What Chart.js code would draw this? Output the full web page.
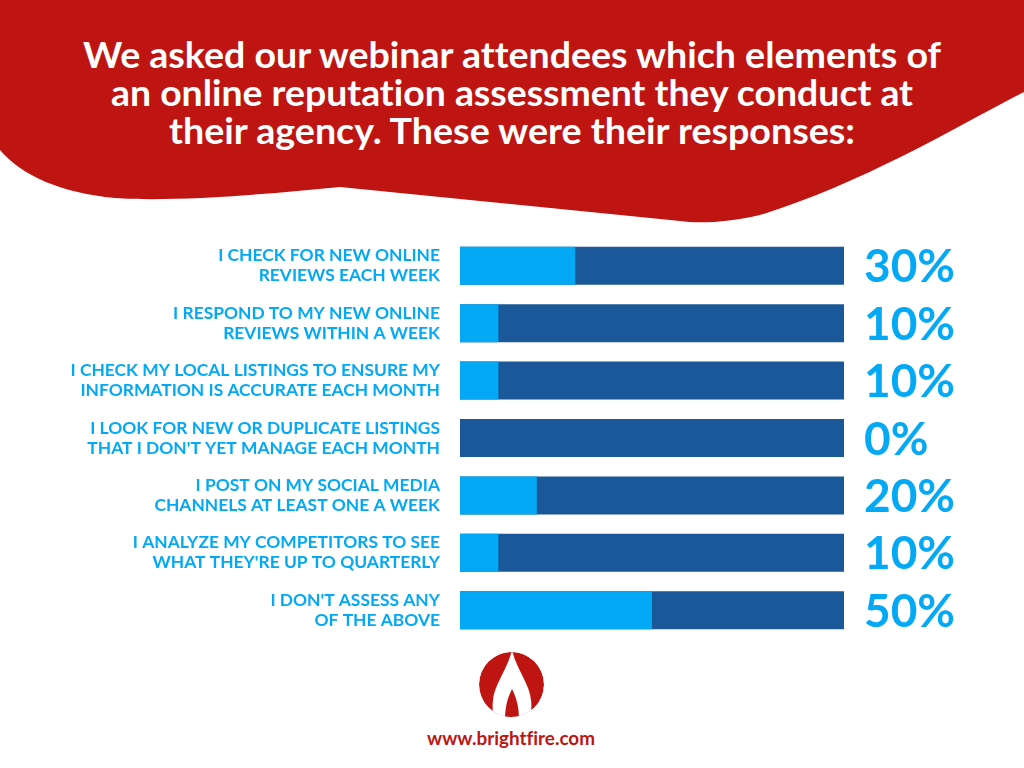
<!DOCTYPE html>
<html>
<head>
<meta charset="utf-8">
<script src="https://cdn.jsdelivr.net/npm/chart.js@4"></script>
<style>
  html, body { margin: 0; padding: 0; background: #fff; }
  #page { position: relative; width: 1024px; height: 768px; overflow: hidden; font-family: Lato, "Open Sans", sans-serif; }
  #deco { position: absolute; left: 0; top: 0; font-variant-ligatures: none; }
  #chartBox { position: absolute; left: 0; top: 237px; width: 1024px; height: 402px; }
</style>
</head>
<body>
<div id="page">
  <svg id="deco" width="1024" height="768" viewBox="0 0 1024 768">
    <defs>
      <clipPath id="logoClip"><circle cx="511.5" cy="684.5" r="32.5"/></clipPath>
    </defs>
    <!-- red wave header -->
    <path fill="#BE1512" d="M0 0 H1024 V92 C960 125 860 185 760 215 C730 222 700 224 680 221 L340 187 C260 195 170 202 115 198 C62 193 22 176 0 150 Z"/>
    <g font-family="Lato, sans-serif" font-weight="700" font-size="36" fill="#fff" text-anchor="middle" lengthAdjust="spacingAndGlyphs">
      <text x="512" y="68" textLength="858" lengthAdjust="spacingAndGlyphs">We asked our webinar attendees which elements of</text>
      <text x="512" y="106" textLength="802" lengthAdjust="spacingAndGlyphs">an online reputation assessment they conduct at</text>
      <text x="512" y="144" textLength="686" lengthAdjust="spacingAndGlyphs">their agency. These were their responses:</text>
    </g>
    <!-- logo -->
    <g clip-path="url(#logoClip)">
      <circle cx="511.5" cy="684.5" r="32.5" fill="#BE1512"/>
      <path fill="#fff" d="M512 650 C508 668 494 685 493 700 C492 708 493 714 495 720 L529 720 C531 714 532 708 531 700 C530 685 516 668 512 650 Z"/>
      <path fill="#BE1512" d="M512 689 C508 697 505 706 505 720 L519 720 C519 706 516 697 512 689 Z"/>
    </g>
    <text x="511" y="745" font-family="Lato, sans-serif" font-weight="700" font-size="18" fill="#BE1512" text-anchor="middle" textLength="168" lengthAdjust="spacingAndGlyphs">www.brightfire.com</text>
  </svg>
  <div id="chartBox"><canvas id="responsesChart"></canvas></div>
</div>
<script>
const categories = [
  ["I CHECK FOR NEW ONLINE", "REVIEWS EACH WEEK"],
  ["I RESPOND TO MY NEW ONLINE", "REVIEWS WITHIN A WEEK"],
  ["I CHECK MY LOCAL LISTINGS TO ENSURE MY", "INFORMATION IS ACCURATE EACH MONTH"],
  ["I LOOK FOR NEW OR DUPLICATE LISTINGS", "THAT I DON'T YET MANAGE EACH MONTH"],
  ["I POST ON MY SOCIAL MEDIA", "CHANNELS AT LEAST ONE A WEEK"],
  ["I ANALYZE MY COMPETITORS TO SEE", "WHAT THEY'RE UP TO QUARTERLY"],
  ["I DON'T ASSESS ANY", "OF THE ABOVE"]
];
const responsePercents = [30, 10, 10, 0, 20, 10, 50];
const totalPercents = [100, 100, 100, 100, 100, 100, 100];

const lightBlue = "#03A9F4";
const darkBlue = "#1A5899";

// big percentage text to the right of each bar
const percentLabels = {
    id: "percentLabels",
    afterDatasetsDraw(chart) {
        const ctx = chart.ctx;
        const xScale = chart.scales.x;
        const meta = chart.getDatasetMeta(0);
        const fontSize = 46;
        ctx.save();
        ctx.font = "700 " + fontSize + "px Lato, sans-serif";
        ctx.fillStyle = lightBlue;
        ctx.textAlign = "left";
        ctx.textBaseline = "alphabetic";
        meta.data.forEach(function (bar, i) {
            const x = xScale.getPixelForValue(100) + 20;
            ctx.fillText(responsePercents[i] + "%", x, bar.y + fontSize * 0.36);
        });
        ctx.restore();
    }
};

new Chart(document.getElementById("responsesChart"), {
    type: "bar",
    data: {
        labels: categories,
        datasets: [
            {
                label: "Responses",
                data: responsePercents,
                backgroundColor: lightBlue,
                borderWidth: 0,
                order: 0
            },
            {
                label: "Total",
                data: totalPercents,
                backgroundColor: darkBlue,
                borderWidth: 0,
                order: 1
            }
        ]
    },
    options: {
        indexAxis: "y",
        responsive: true,
        maintainAspectRatio: false,
        animation: false,
        grouped: false,
        barPercentage: 0.662,
        categoryPercentage: 1,
        layout: { padding: { left: 0, right: 180, top: 0, bottom: 0 } },
        plugins: {
            legend: { display: false },
            tooltip: { enabled: false }
        },
        scales: {
            x: { display: false, min: 0, max: 100 },
            y: {
                grid: { display: false, drawTicks: false },
                border: { display: false },
                ticks: {
                    color: lightBlue,
                    padding: 20,
                    font: { family: "Lato, sans-serif", weight: "700", size: 17.4, lineHeight: 1.15 }
                },
                afterFit: function (axis) {
                    axis.width = 460;
                    axis.paddingTop = 0;
                    axis.paddingBottom = 0;
                }
            }
        }
    },
    plugins: [percentLabels]
});
</script>
</body>
</html>
